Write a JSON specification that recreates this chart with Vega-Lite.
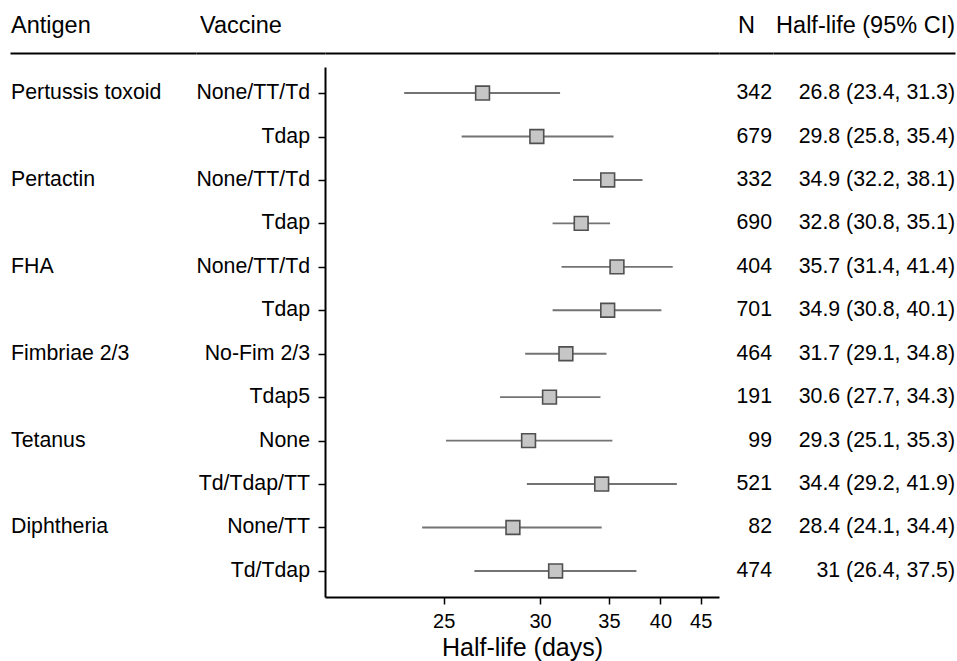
{
  "$schema": "https://vega.github.io/schema/vega-lite/v6.json",
  "background": "white",
  "padding": {"left": 10, "right": 2, "top": 13, "bottom": 1},
  "spacing": 0,
  "bounds": "flush",
  "datasets": {
    "rows": [
      {"row": 1, "antigen": "Pertussis toxoid", "vaccine": "None/TT/Td", "n": "342", "hl": 26.8, "lo": 23.4, "hi": 31.3, "ci": "26.8 (23.4, 31.3)"},
      {"row": 2, "antigen": "Pertussis toxoid", "vaccine": "Tdap", "n": "679", "hl": 29.8, "lo": 25.8, "hi": 35.4, "ci": "29.8 (25.8, 35.4)"},
      {"row": 3, "antigen": "Pertactin", "vaccine": "None/TT/Td", "n": "332", "hl": 34.9, "lo": 32.2, "hi": 38.1, "ci": "34.9 (32.2, 38.1)"},
      {"row": 4, "antigen": "Pertactin", "vaccine": "Tdap", "n": "690", "hl": 32.8, "lo": 30.8, "hi": 35.1, "ci": "32.8 (30.8, 35.1)"},
      {"row": 5, "antigen": "FHA", "vaccine": "None/TT/Td", "n": "404", "hl": 35.7, "lo": 31.4, "hi": 41.4, "ci": "35.7 (31.4, 41.4)"},
      {"row": 6, "antigen": "FHA", "vaccine": "Tdap", "n": "701", "hl": 34.9, "lo": 30.8, "hi": 40.1, "ci": "34.9 (30.8, 40.1)"},
      {"row": 7, "antigen": "Fimbriae 2/3", "vaccine": "No-Fim 2/3", "n": "464", "hl": 31.7, "lo": 29.1, "hi": 34.8, "ci": "31.7 (29.1, 34.8)"},
      {"row": 8, "antigen": "Fimbriae 2/3", "vaccine": "Tdap5", "n": "191", "hl": 30.6, "lo": 27.7, "hi": 34.3, "ci": "30.6 (27.7, 34.3)"},
      {"row": 9, "antigen": "Tetanus", "vaccine": "None", "n": "99", "hl": 29.3, "lo": 25.1, "hi": 35.3, "ci": "29.3 (25.1, 35.3)"},
      {"row": 10, "antigen": "Tetanus", "vaccine": "Td/Tdap/TT", "n": "521", "hl": 34.4, "lo": 29.2, "hi": 41.9, "ci": "34.4 (29.2, 41.9)"},
      {"row": 11, "antigen": "Diphtheria", "vaccine": "None/TT", "n": "82", "hl": 28.4, "lo": 24.1, "hi": 34.4, "ci": "28.4 (24.1, 34.4)"},
      {"row": 12, "antigen": "Diphtheria", "vaccine": "Td/Tdap", "n": "474", "hl": 31, "lo": 26.4, "hi": 37.5, "ci": "31 (26.4, 37.5)"}
    ],
    "antigens": [
      {"row": 1, "antigen": "Pertussis toxoid"},
      {"row": 3, "antigen": "Pertactin"},
      {"row": 5, "antigen": "FHA"},
      {"row": 7, "antigen": "Fimbriae 2/3"},
      {"row": 9, "antigen": "Tetanus"},
      {"row": 11, "antigen": "Diphtheria"}
    ]
  },
  "config": {
    "view": {"stroke": null},
    "font": "Liberation Sans",
    "title": {"fontSize": 23.5, "fontWeight": "normal", "font": "Liberation Sans", "color": "black", "anchor": "start", "baseline": "alphabetic", "offset": 16},
    "axis": {"domainColor": "black", "tickColor": "black", "labelColor": "black", "titleColor": "black", "labelFont": "Liberation Sans", "titleFont": "Liberation Sans", "grid": false},
    "text": {"font": "Liberation Sans", "fontSize": 21.3, "color": "black"}
  },
  "resolve": {"scale": {"x": "independent", "y": "independent"}},
  "hconcat": [
    {
      "width": 186, "height": 530,
      "title": {"text": "Antigen", "dx": 1},
      "data": {"name": "antigens"},
      "mark": {"type": "text", "align": "left", "baseline": "middle", "dx": 1},
      "encoding": {
        "x": {"datum": 0, "type": "quantitative", "scale": {"domain": [0, 1], "nice": false}, "axis": {"orient": "top", "offset": 14, "labels": false, "ticks": false, "title": null, "domainWidth": 2}},
        "y": {"field": "row", "type": "ordinal", "scale": {"type": "point", "domain": [1,2,3,4,5,6,7,8,9,10,11,12], "padding": 0.6}, "axis": null},
        "text": {"field": "antigen"}
      }
    },
    {
      "width": 129, "height": 530,
      "title": {"text": "Vaccine", "dx": 4},
      "data": {"name": "rows"},
      "mark": {"type": "text", "align": "right", "baseline": "middle", "dx": -15},
      "encoding": {
        "x": {"datum": 1, "type": "quantitative", "scale": {"domain": [0, 1], "nice": false}, "axis": {"orient": "top", "offset": 14, "labels": false, "ticks": false, "title": null, "domainWidth": 2}},
        "y": {"field": "row", "type": "ordinal", "scale": {"type": "point", "domain": [1,2,3,4,5,6,7,8,9,10,11,12], "padding": 0.6}, "axis": null},
        "text": {"field": "vaccine"}
      }
    },
    {
      "width": 394, "height": 530,
      "data": {"name": "rows"},
      "layer": [
        {
          "mark": {"type": "rule", "color": "#737373", "strokeWidth": 1.9},
          "encoding": {
            "x": {"field": "lo", "type": "quantitative", "scale": {"type": "pow", "exponent": -1, "domain": [20.74, 47.73], "nice": false, "zero": false}, "axis": {"orient": "top", "offset": 14, "labels": false, "ticks": false, "title": null, "domainWidth": 2}},
            "x2": {"field": "hi"},
            "y": {"field": "row", "type": "ordinal", "scale": {"type": "point", "domain": [1,2,3,4,5,6,7,8,9,10,11,12], "padding": 0.6}, "axis": {"orient": "left", "labels": false, "ticks": true, "tickSize": 7, "tickWidth": 1.5, "domainWidth": 2, "title": null, "minExtent": 0}}
          }
        },
        {
          "mark": {"type": "point", "shape": "square", "filled": true, "size": 190, "fill": "#c6c6c6", "stroke": "#505050", "strokeWidth": 1.6, "opacity": 1},
          "encoding": {
            "x": {"field": "hl", "type": "quantitative", "axis": {"orient": "bottom", "values": [25, 30, 35, 40, 45], "title": "Half-life (days)", "domainWidth": 2, "tickSize": 7, "tickWidth": 1.5, "labelFontSize": 20, "labelPadding": 7, "titleFontSize": 25, "titleFontWeight": "normal", "titlePadding": 4}},
            "y": {"field": "row", "type": "ordinal"}
          }
        }
      ],
      "resolve": {"axis": {"x": "independent"}}
    },
    {
      "width": 54, "height": 530,
      "title": {"text": "N", "dx": 19},
      "data": {"name": "rows"},
      "mark": {"type": "text", "align": "right", "baseline": "middle", "dx": -1},
      "encoding": {
        "x": {"datum": 1, "type": "quantitative", "scale": {"domain": [0, 1], "nice": false}, "axis": {"orient": "top", "offset": 14, "labels": false, "ticks": false, "title": null, "domainWidth": 2}},
        "y": {"field": "row", "type": "ordinal", "scale": {"type": "point", "domain": [1,2,3,4,5,6,7,8,9,10,11,12], "padding": 0.6}, "axis": null},
        "text": {"field": "n"}
      }
    },
    {
      "width": 182, "height": 530,
      "title": {"text": "Half-life (95% CI)", "anchor": "end"},
      "data": {"name": "rows"},
      "mark": {"type": "text", "align": "right", "baseline": "middle"},
      "encoding": {
        "x": {"datum": 1, "type": "quantitative", "scale": {"domain": [0, 1], "nice": false}, "axis": {"orient": "top", "offset": 14, "labels": false, "ticks": false, "title": null, "domainWidth": 2}},
        "y": {"field": "row", "type": "ordinal", "scale": {"type": "point", "domain": [1,2,3,4,5,6,7,8,9,10,11,12], "padding": 0.6}, "axis": null},
        "text": {"field": "ci"}
      }
    }
  ]
}
